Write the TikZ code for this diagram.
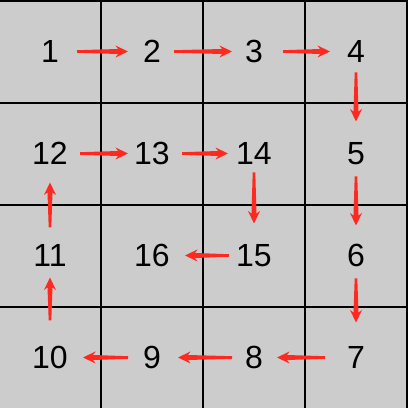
\documentclass[tikz,border=0pt]{standalone}
\usepackage{fontspec}
\setmainfont{Liberation Sans}
\usetikzlibrary{calc}
\definecolor{bg}{HTML}{CCCCCC}
\definecolor{ared}{HTML}{FF2A1F}
\tikzset{
  num/.style={font=\fontsize{32}{32}\selectfont, inner sep=0pt, text height=23pt, text depth=0pt, anchor=center},
  gridline/.style={line width=2.3pt, black},
  arrowbody/.style={fill=ared}
}
\newcommand\tarrow[4]{%
  \path let \p1=($(#1)!#3!(#2)$), \p2=($(#2)!#4!(#1)$),
    \n1={veclen(\x2-\x1,\y2-\y1)}, \n2={atan2(\y2-\y1,\x2-\x1)} in
    \pgfextra{\xdef\TAx{\x1}\xdef\TAy{\y1}%
      \pgfmathparse{\n1}\xdef\TAl{\pgfmathresult}%
      \pgfmathparse{\n2}\xdef\TAa{\pgfmathresult}};
  \path[arrowbody, shift={(\TAx,\TAy)}, rotate=\TAa]
    (0,-1.3) -- (\TAl-10,-2.5) -- (\TAl-12.5,-6) -- (\TAl,0) -- (\TAl-12.5,6) -- (\TAl-10,2.5) -- (0,1.3) -- cycle;
}
\begin{document}
\begin{tikzpicture}[x=1pt,y=1pt]
\useasboundingbox (0,0) rectangle (408,408);
\fill[bg] (0,0) rectangle (408,408);
\foreach \v in {101,203,305,407} {
  \draw[gridline] (\v,0) -- (\v,408);
  \draw[gridline] (0,\v) -- (408,\v);
}
% row 1
\node[num] (n1)  at (50,356.5) {1};
\node[num] (n2)  at (152,356.5) {2};
\node[num] (n3)  at (254,356.5) {3};
\node[num] (n4)  at (356,356.5) {4};
% row 2
\node[num] (n12) at (50,254.5) {12};
\node[num] (n13) at (152,254.5) {13};
\node[num] (n14) at (254,254.5) {14};
\node[num] (n5)  at (356,254.5) {5};
% row 3
\node[num] (n11) at (50,152.5) {11};
\node[num] (n16) at (152,152.5) {16};
\node[num] (n15) at (254,152.5) {15};
\node[num] (n6)  at (356,152.5) {6};
% row 4
\node[num] (n10) at (50,50.5) {10};
\node[num] (n9)  at (152,50.5) {9};
\node[num] (n8)  at (254,50.5) {8};
\node[num] (n7)  at (356,50.5) {7};
% arrows
\tarrow{n1}{n2}{27pt}{24pt}
\tarrow{n2}{n3}{22pt}{22pt}
\tarrow{n3}{n4}{29pt}{26pt}
\tarrow{n4}{n5}{21pt}{32pt}
\tarrow{n5}{n6}{23pt}{30pt}
\tarrow{n6}{n7}{23pt}{35pt}
\tarrow{n7}{n8}{31pt}{23pt}
\tarrow{n8}{n9}{22pt}{26pt}
\tarrow{n9}{n10}{24pt}{33pt}
\tarrow{n10}{n11}{37pt}{22pt}
\tarrow{n11}{n12}{28pt}{29pt}
\tarrow{n12}{n13}{30pt}{24pt}
\tarrow{n13}{n14}{30pt}{26pt}
\tarrow{n14}{n15}{19pt}{32pt}
\tarrow{n15}{n16}{25pt}{33pt}
\end{tikzpicture}
\end{document}
